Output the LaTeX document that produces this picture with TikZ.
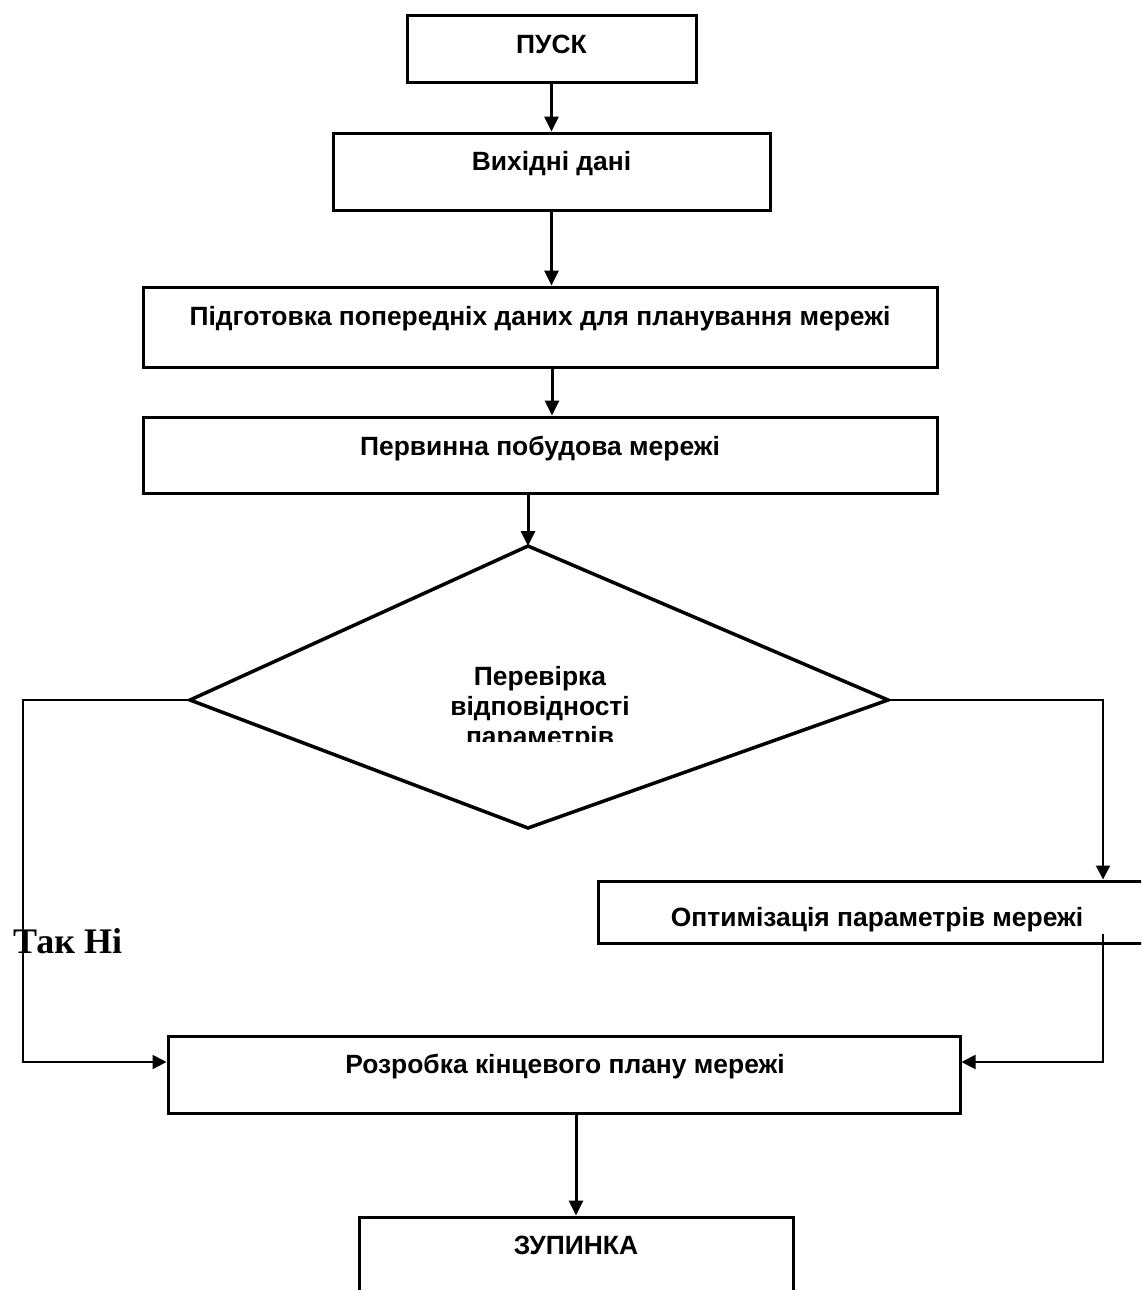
\documentclass[tikz,border=0pt]{standalone}
\usepackage{fontspec}
\setmainfont{Liberation Sans}
\newfontfamily\tnr{Liberation Serif}
\usetikzlibrary{arrows.meta}
\tikzset{
  x=1pt, y=-1pt,
  box/.style={draw, line width=3pt, inner sep=0pt},
  lbl/.style={font=\bfseries\fontsize{26.4}{30}\selectfont, inner sep=0pt, anchor=base},
  arr/.style={line width=3pt, -{Triangle[width=14pt,length=15pt]}},
  side/.style={line width=2pt},
  sidearr/.style={line width=2pt, -{Triangle[width=14pt,length=14pt]}},
  dia/.style={line width=3.5pt, line join=miter},
}
\begin{document}
\begin{tikzpicture}
\useasboundingbox (0,0) rectangle (1141,1290);
\clip (0,0) rectangle (1141,1290);
\fill[white] (0,0) rectangle (1141,1290);

% boxes
\node[box, minimum width=289pt, minimum height=66pt] (pusk) at (551.5,49) {};
\node[box, minimum width=437pt, minimum height=77pt] (vyh) at (551.5,171.5) {};
\node[box, minimum width=794pt, minimum height=80pt] (pidg) at (540,327) {};
\node[box, minimum width=794pt, minimum height=76pt] (perv) at (540,455) {};
\node[box, minimum width=558pt, minimum height=62pt] (opt) at (877,912) {};
\node[box, minimum width=792pt, minimum height=77pt] (rozr) at (564,1074.5) {};
\node[box, minimum width=434pt, minimum height=110pt] (zup) at (576,1272) {};

% labels
\node[lbl] (puskt) at (551.5,53) {ПУСК};
\node[lbl] (vyht) at (551.5,170) {Вихідні дані};
\node[lbl] (pidgt) at (540,325) {Підготовка попередніх даних для планування мережі};
\node[lbl] (pervt) at (540,455) {Первинна побудова мережі};
\node[lbl] (optt) at (877,926) {Оптимізація параметрів мережі};
\node[lbl] (rozrt) at (565,1073) {Розробка кінцевого плану мережі};
\node[lbl] (zupt) at (576,1254) {ЗУПИНКА};

% diamond
\coordinate (dT) at (528,546);
\coordinate (dR) at (888,700);
\coordinate (dB) at (528,828);
\coordinate (dL) at (190,700);
\draw[dia] (dT) -- (dR) -- (dB) -- (dL) -- cycle;
\begin{scope}
\clip (300,640) rectangle (800,741);
\node[lbl] (d1) at (540,685) {Перевірка};
\node[lbl] (d2) at (540,715) {відповідності};
\node[lbl] (d3) at (540,745) {параметрів};
\end{scope}

% connectors
\draw[arr] (pusk.south) -- (vyh.north);
\draw[arr] (vyh.south) -- (vyh.south |- pidg.north);
\draw[arr] ([xshift=12pt]pidg.south) -- ([xshift=12pt]perv.north);
\draw[arr] (perv.south -| dT) -- (dT);

\coordinate (lc) at (23,700);
\draw[sidearr] (dL) -- (lc) |- ([yshift=12.5pt]rozr.west);

\coordinate (rc) at (1103,700);
\draw[sidearr] (dR) -- (rc) -- (rc |- opt.north);

\coordinate (oc) at (1103,934);
\draw[sidearr] (oc) |- ([yshift=12.5pt]rozr.east);

\draw[arr] ([xshift=12pt]rozr.south) -- ([xshift=12pt]rozr.south |- zup.north);

\node[font=\tnr\bfseries\fontsize{36}{40}\selectfont, inner sep=0pt, anchor=base west] (takni) at (13,953) {Так Ні};
\end{tikzpicture}
\end{document}
